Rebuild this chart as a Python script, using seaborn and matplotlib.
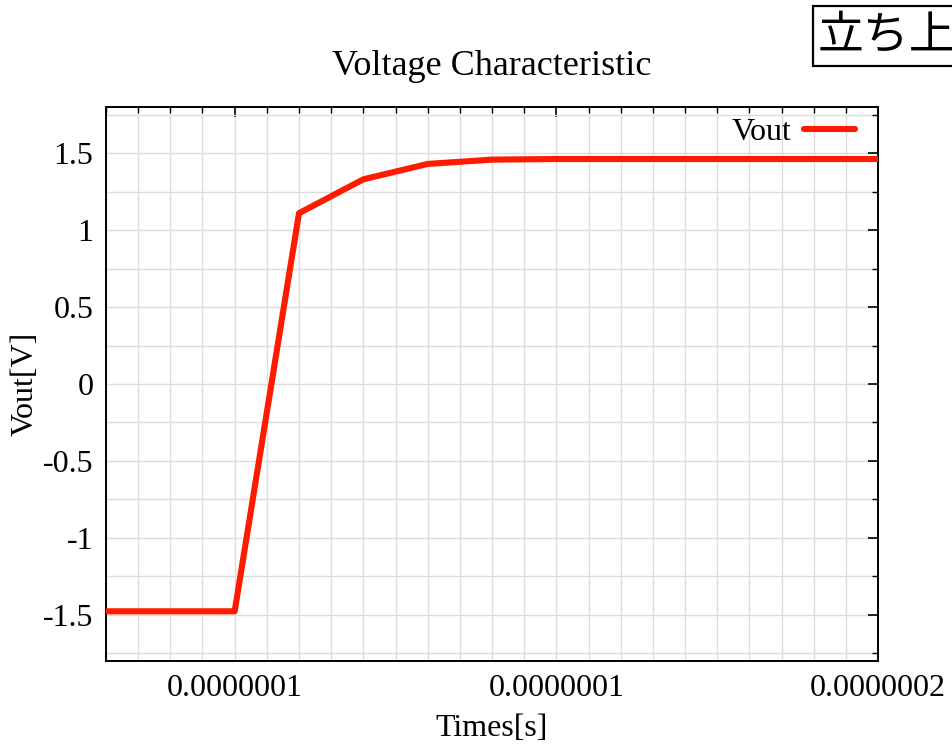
import matplotlib
matplotlib.use("Agg")
import matplotlib.pyplot as plt
import seaborn as sns
import pandas as pd
from matplotlib.ticker import MultipleLocator, FixedLocator

# ---- data ----
time_s = [0.8e-7, 0.9e-7, 1.0e-7, 1.1e-7, 1.2e-7, 1.3e-7, 1.4e-7, 1.5e-7,
          1.6e-7, 1.7e-7, 1.8e-7, 1.9e-7, 2.0e-7]
vout = [-1.477, -1.477, -1.477, 1.11, 1.33, 1.43, 1.458, 1.462,
        1.462, 1.462, 1.462, 1.462, 1.462]
xtick_pos = [1.0e-7, 1.5e-7, 2.0e-7]
xtick_labels = ["0.0000001", "0.0000001", "0.0000002"]
ytick_pos = [-1.5, -1.0, -0.5, 0.0, 0.5, 1.0, 1.5]
ytick_labels = ["-1.5", "-1", "-0.5", "0", "0.5", "1", "1.5"]
title = "Voltage Characteristic"
xlabel = "Times[s]"
ylabel = "Vout[V]"
series_name = "Vout"
corner_text = "立ち上がり"

df = pd.DataFrame({"time": time_s, "vout": vout})

sns.set_theme(style="white")
plt.rcParams["font.family"] = ["Liberation Serif", "DejaVu Serif"]
plt.rcParams["text.color"] = "black"
plt.rcParams["axes.labelcolor"] = "black"

fig = plt.figure(figsize=(9.52, 7.44), dpi=100)
ax = fig.add_axes([106/952, 1-661/744, (878-106)/952, (661-107)/744])

sns.lineplot(data=df, x="time", y="vout", ax=ax, color="#ff1a00",
             linewidth=4.4, label=series_name, zorder=5)

ax.set_xlim(0.8e-7, 2.0e-7)
ax.set_ylim(-1.8, 1.8)
ax.xaxis.set_major_locator(FixedLocator(xtick_pos))
ax.set_xticklabels(xtick_labels)
ax.xaxis.set_minor_locator(MultipleLocator(0.05e-7))
ax.yaxis.set_major_locator(FixedLocator(ytick_pos))
ax.set_yticklabels(ytick_labels)
ax.yaxis.set_minor_locator(MultipleLocator(0.25))

ax.grid(True, which="both", color="#dcdcdc", linewidth=1.0, zorder=0)
ax.set_axisbelow(True)
ax.tick_params(which="both", direction="in", top=True, right=True,
               colors="black", labelcolor="black", labelsize=23)
ax.tick_params(which="major", length=7, width=1.2, pad=9)
ax.tick_params(which="minor", length=4, width=1.0)
for s in ax.spines.values():
    s.set_color("black")
    s.set_linewidth(1.4)

ax.set_title(title, fontsize=26, pad=23, color="black")
ax.set_xlabel(xlabel, fontsize=23, labelpad=8)
ax.set_ylabel(ylabel, fontsize=23, labelpad=2)

leg = ax.legend(loc="upper right", bbox_to_anchor=(0.9767, 0.9892),
                frameon=False, fontsize=23, markerfirst=False,
                handlelength=1.6, borderaxespad=0.0, borderpad=0.15,
                handletextpad=0.4)
for t in leg.get_texts():
    t.set_color("black")

fig.text(818/952, 1-36/744, corner_text, fontsize=33, va="center", ha="left",
         family=["Noto Sans CJK JP", "DejaVu Sans"], color="black",
         bbox=dict(boxstyle="square,pad=0.12", fc="white", ec="black", lw=1.6))

fig.savefig("out.png", dpi=100)
